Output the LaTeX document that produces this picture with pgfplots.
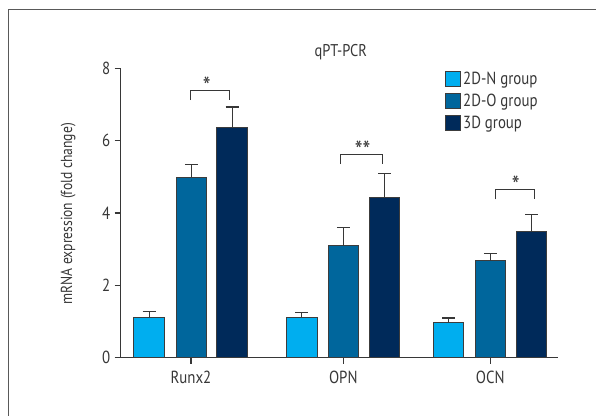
\documentclass[border=0pt]{standalone}
\usepackage{pgfplots}
\pgfplotsset{compat=1.18}
\usepackage{fontspec}
\setmainfont{PT Sans}[FakeStretch=0.85]
\definecolor{cN}{RGB}{0,174,239}
\definecolor{cO}{RGB}{0,102,156}
\definecolor{cD}{RGB}{0,42,90}
\definecolor{axc}{RGB}{55,55,55}
\definecolor{edge}{RGB}{60,60,60}
\begin{document}
\begin{tikzpicture}[x=1pt,y=1pt]
\useasboundingbox (0,0) rectangle (596,415);
\draw[color=black!65, line width=1pt] (8,-5) -- (8,405) -- (605,405);
\begin{axis}[
  at={(120.7pt,57.3pt)}, anchor=south west,
  scale only axis, width=437.6pt, height=289.4pt,
  xmin=120.7, xmax=558.3, ymin=0, ymax=8,
  axis lines=left,
  axis line style={-, line width=1.2pt, color=axc},
  tick align=outside, major tick length=6pt,
  tick style={line width=1.2pt, color=axc},
  ytick={0,2,4,6,8},
  xtick={191,343.3,490.3},
  xticklabels={Runx2,OPN,OCN},
  /pgf/number format/assume math mode=true,
  tick label style={font=\fontsize{17.5}{20}\selectfont, text=axc},
  yticklabel style={xshift=-1pt},
  xticklabel style={yshift=-4pt},
  ylabel={mRNA expression (fold change)},
  every axis y label/.style={at={(axis description cs:-0.120,0.497)}, rotate=90, anchor=center, font=\fontsize{16}{19}\selectfont, text=axc},
  legend style={at={(axis description cs:0.741,0.995)}, anchor=north west, draw=none, fill=none, font=\fontsize{17.5}{20}\selectfont, text=axc, row sep=4pt, inner sep=0pt, cells={anchor=west}},
  mybar/.style={ybar, bar width=30.5, bar shift=0pt, draw=edge, line width=1pt,
    error bars/y dir=plus, error bars/y explicit,
    error bars/error bar style={line width=1.2pt, color=axc},
    error bars/error mark options={rotate=90, mark size=6.5pt, line width=1.2pt, color=axc}},
  clip=false,
]
\addplot[mybar, fill=cN, legend image code/.code={\draw[fill=cN, draw=edge, line width=1pt] (0pt,-7.5pt) rectangle (15pt,7.5pt);}] coordinates {
  (149.2,1.11) +- (0,0.16)
  (301.8,1.12) +- (0,0.14)
  (448.5,0.98) +- (0,0.12)
};
\addlegendentry{2D-N group}
\addplot[mybar, fill=cO, legend image code/.code={\draw[fill=cO, draw=edge, line width=1pt] (0pt,-7.5pt) rectangle (15pt,7.5pt);}] coordinates {
  (191.3,4.99) +- (0,0.36)
  (343.3,3.10) +- (0,0.49)
  (490.3,2.68) +- (0,0.19)
};
\addlegendentry{2D-O group}
\addplot[mybar, fill=cD, legend image code/.code={\draw[fill=cD, draw=edge, line width=1pt] (0pt,-7.5pt) rectangle (15pt,7.5pt);}] coordinates {
  (232.2,6.36) +- (0,0.57)
  (384.7,4.43) +- (0,0.66)
  (531.5,3.48) +- (0,0.47)
};
\addlegendentry{3D group}
\addplot[forget plot, sharp plot, no marks, line width=1pt, color=axc] coordinates {(190.7,7.12) (190.7,7.40) (229.3,7.40) (229.3,7.12)};
\addplot[forget plot, sharp plot, no marks, line width=1pt, color=axc] coordinates {(340.7,5.35) (340.7,5.63) (382.7,5.63) (382.7,5.35)};
\addplot[forget plot, sharp plot, no marks, line width=1pt, color=axc] coordinates {(495.7,4.38) (495.7,4.65) (534.3,4.65) (534.3,4.38)};
\node[anchor=north, inner sep=0pt, font=\fontsize{26}{28}\selectfont, text=axc] at (axis cs:206.7,7.78) {*};
\node[anchor=north, inner sep=0pt, font=\fontsize{26}{28}\selectfont, text=axc] at (axis cs:362.7,6.00) {**};
\node[anchor=north, inner sep=0pt, font=\fontsize{26}{28}\selectfont, text=axc] at (axis cs:515.7,5.03) {*};
\node[font=\fontsize{17}{20}\selectfont, text=axc] at (axis description cs:0.503,1.056) {qPT-PCR};
\end{axis}
\end{tikzpicture}
\end{document}
